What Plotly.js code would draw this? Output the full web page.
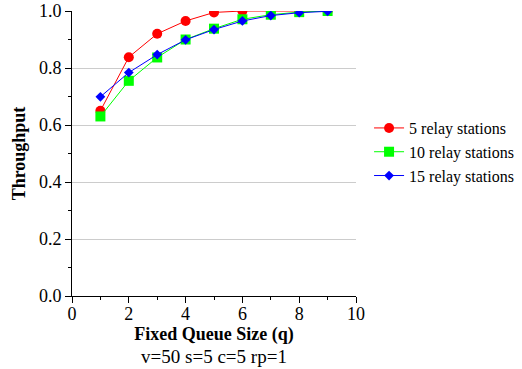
<!DOCTYPE html>
<html>
<head>
<meta charset="utf-8">
<script src="https://cdn.plot.ly/plotly-3.0.1.min.js"></script>
<style>html,body{margin:0;padding:0;background:#fff;}#chart{width:522px;height:369px;}</style>
</head>
<body>
<div id="chart"></div>
<script>
const queueSizes = [1, 2, 3, 4, 5, 6, 7, 8, 9];
const relay5 = [0.650, 0.838, 0.920, 0.965, 0.995, 1.000, 1.000, 1.000, 1.000];
const relay10 = [0.630, 0.755, 0.837, 0.900, 0.938, 0.971, 0.987, 0.996, 1.000];
const relay15 = [0.699, 0.784, 0.847, 0.899, 0.935, 0.965, 0.984, 0.994, 0.999];
const seriesNames = ['5 relay stations', '10 relay stations', '15 relay stations'];

const font = '"Liberation Serif", serif';
const traces = [
  {x: queueSizes, y: relay5, name: seriesNames[0], mode: 'lines+markers',
   line: {color: '#ff0000', width: 1}, marker: {symbol: 'circle', size: 10, color: '#ff0000'}},
  {x: queueSizes, y: relay10, name: seriesNames[1], mode: 'lines+markers',
   line: {color: '#00ff00', width: 1}, marker: {symbol: 'square', size: 10, color: '#00ff00'}},
  {x: queueSizes, y: relay15, name: seriesNames[2], mode: 'lines+markers',
   line: {color: '#0000ff', width: 1}, marker: {symbol: 'diamond', size: 7.5, color: '#0000ff'}}
];
const layout = {
  width: 522, height: 369,
  margin: {l: 72, r: 166, t: 11, b: 73},
  paper_bgcolor: '#fff', plot_bgcolor: '#fff',
  font: {family: font, size: 18, color: '#000'},
  showlegend: true,
  legend: {xref: 'container', yref: 'container', x: 0.707, y: 0.588, xanchor: 'left', yanchor: 'middle',
           font: {family: font, size: 16}, bgcolor: 'rgba(0,0,0,0)', tracegroupgap: 0, itemwidth: 30},
  xaxis: {range: [0, 10], dtick: 2, tick0: 0, showgrid: false, zeroline: false, automargin: false,
          showline: true, linecolor: '#000', linewidth: 1, ticks: 'outside', ticklen: 6, tickcolor: '#000',
          minor: {dtick: 1, ticks: 'outside', ticklen: 3, tickcolor: '#000', showgrid: false},
          tickfont: {family: font, size: 18}, ticklabelstandoff: -5,
          title: {text: '<b>Fixed Queue Size (q)</b><br><span style="font-size:19px">v=50 s=5 c=5 rp=1</span>', standoff: 0, font: {family: font, size: 18}}},
  yaxis: {range: [0, 1], dtick: 0.2, tick0: 0, tickformat: '.1f', showgrid: true, gridcolor: '#cccccc', gridwidth: 1,
          zeroline: false, showline: true, linecolor: '#000', linewidth: 1, ticks: 'outside', ticklen: 6, tickcolor: '#000',
          minor: {dtick: 0.1, ticks: 'outside', ticklen: 3, tickcolor: '#000', showgrid: false}, automargin: false,
          tickfont: {family: font, size: 18},
          title: {text: '<b>Throughput</b>', standoff: 8, font: {family: font, size: 18}}}
};
Plotly.newPlot('chart', traces, layout, {staticPlot: true, displayModeBar: false});
</script>
</body>
</html>
